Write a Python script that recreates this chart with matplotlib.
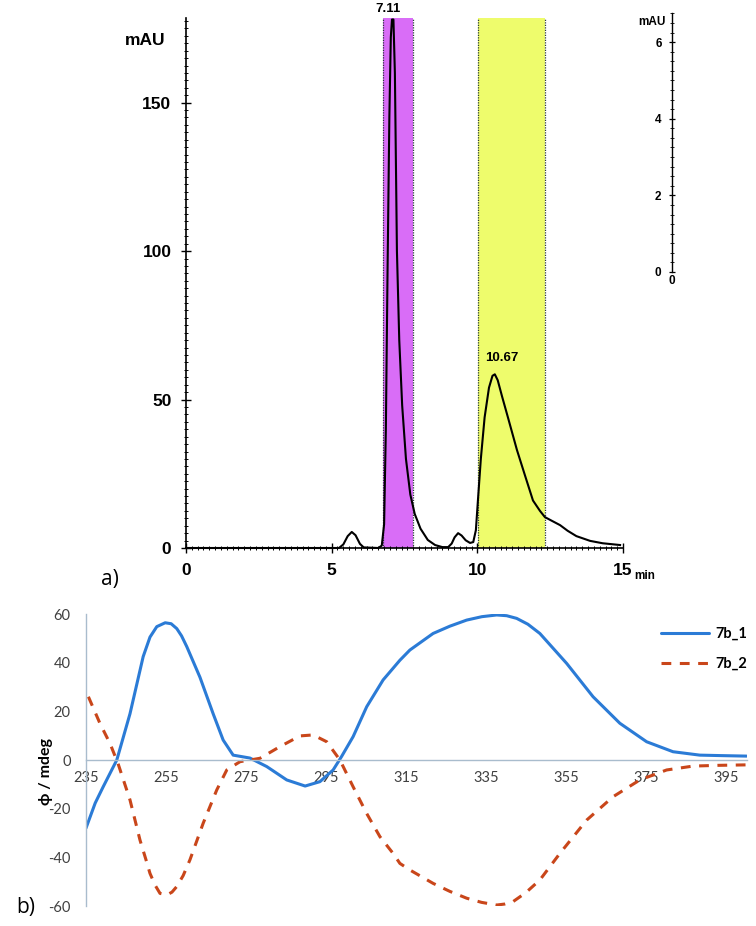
import matplotlib
matplotlib.use("Agg")
import matplotlib.pyplot as plt
from matplotlib.ticker import MultipleLocator

plt.rcParams["axes.unicode_minus"] = False

# ---- panel a: chromatogram (time / min, signal / mAU)
t_min = [0, 5.25, 5.4, 5.55, 5.69, 5.82, 5.97, 6.1, 6.6, 6.72, 6.8, 6.86, 6.92, 6.98,
         7.03, 7.07, 7.12, 7.17, 7.24, 7.32, 7.42, 7.55, 7.7, 7.85, 8.05, 8.3, 8.55,
         8.8, 9.0, 9.12, 9.22, 9.34, 9.46, 9.6, 9.75, 9.86, 9.95, 10.02, 10.12, 10.25,
         10.4, 10.52, 10.6, 10.7, 10.85, 11.05, 11.36, 11.65, 11.91, 12.15, 12.32, 12.55,
         12.84, 13.1, 13.4, 13.87, 14.3, 14.9]
mau = [0, 0, 1.2, 4.0, 5.4, 4.3, 1.4, 0.2, 0, 0.8, 8, 40, 95, 145,
       172, 178, 178, 160, 100, 70, 48, 30, 18, 11.5, 6.5, 2.7, 1.0,
       0.3, 0.3, 1.5, 3.6, 5.0, 4.2, 2.6, 1.7, 2.0, 6, 16, 30, 44,
       54, 58, 58.5, 56.5, 51, 44, 33, 24, 16, 12.5, 10.4, 9.2,
       7.7, 5.8, 4.0, 2.4, 1.6, 1.0]
band_magenta = (6.76, 7.79)
band_yellow = (10.02, 12.32)
peak_labels = ["7.11", "10.67"]
peak_label_xy = [(6.93, 181.5), (10.85, 64)]

# ---- panel b: CD spectra
nm_1 = [235, 237.3, 239.3, 242.7, 246, 249.3, 251, 252.7, 254.8, 256.3, 257.7, 258.9,
        260.2, 263.5, 266.8, 269.3, 271.8, 276, 280.2, 285.2, 289.8, 293.5, 296.8,
        298.9, 301.8, 305.2, 309.3, 313.5, 316, 321.8, 326, 330.2, 334, 337.7, 340.2,
        342.7, 345.5, 348.5, 355.2, 361.8, 368.5, 375.2, 381.8, 388.5, 394, 400.2]
cd_1 = [-28, -17.7, -11, 0, 19, 42.5, 50.5, 54.8, 56.4, 56, 54, 51,
        46.6, 34, 19, 8.2, 2, 0.8, -2.7, -8.2, -10.7, -8.9, -4.1,
        1.4, 9.6, 21.9, 32.9, 41, 45.2, 52, 55, 57.5, 58.9, 59.6, 59.3,
        58.2, 55.8, 52, 39.7, 26, 15.1, 7.5, 3.4, 2, 1.8, 1.6]
nm_2 = [235.6, 238.5, 241, 243, 246, 248.5, 250, 251, 252.3, 253.5, 255.2, 256.5,
        257.7, 259.3, 261, 264.3, 267.7, 270.2, 273.5, 278.5, 283.5, 288.5, 291.8,
        295.2, 298.5, 301.8, 305.2, 308.5, 311.8, 313.5, 316, 321.8, 326, 330.2, 333.9,
        337.7, 339.7, 341.8, 345, 348.5, 353.5, 360.2, 366.8, 373.5, 380.2, 386.8, 393,
        400.2]
cd_2 = [26, 15, 6.8, -1.4, -16.4, -32.9, -41, -46.6, -51.5, -54.8, -55.5, -54.3,
        -52, -47.5, -41, -26, -12.3, -4.1, -0.7, 0.7, 5.5, 9.9, 10.3,
        7.5, 0, -11, -22, -31.5, -38.4, -42.5, -45.2, -50.7, -54, -56.8, -58.5,
        -59.6, -59.2, -58.2, -54.5, -49.3, -38.4, -24.7, -15.1, -8.2, -4.1, -2.5, -2.2,
        -2]
series_names = ["7b_1", "7b_2"]
cd_xticks = [235, 255, 275, 295, 315, 335, 355, 375, 395]
cd_yticks = [-60, -40, -20, 0, 20, 40, 60]

W, H = 756, 926
fig = plt.figure(figsize=(W / 100, H / 100), dpi=100)

def fx(px):
    return px / W

def fy(py):
    return 1 - py / H

# ---------------- panel a ----------------
axa = fig.add_axes([fx(186), fy(548), fx(623 - 186), fy(18) - fy(548)])
for lo, hi, col in [(band_magenta[0], band_magenta[1], "#d96df7"),
                    (band_yellow[0], band_yellow[1], "#eefc6c")]:
    axa.axvspan(lo, hi, color=col, zorder=1, lw=0)
    for xv in (lo, hi):
        axa.axvline(xv, color="#2a3a3a", lw=0.9, ls=(0, (1, 1)), zorder=2)
axa.plot(t_min, mau, color="black", lw=1.5, zorder=3, clip_on=False)
axa.set_xlim(0, 15)
axa.set_ylim(0, 178.5)
for s in ["top", "right"]:
    axa.spines[s].set_visible(False)
axa.spines["left"].set_linewidth(1.2)
axa.spines["bottom"].set_linewidth(1.2)
axa.set_xticks([0, 5, 10, 15])
axa.set_yticks([0, 50, 100, 150])
axa.xaxis.set_minor_locator(MultipleLocator(0.2))
axa.yaxis.set_minor_locator(MultipleLocator(2.5))
axa.tick_params(axis="both", which="major", direction="inout", length=7, width=1.0,
                labelsize=12.5, pad=7)
axa.tick_params(axis="both", which="minor", direction="inout", length=3.5, width=0.7)
for lab in axa.get_xticklabels() + axa.get_yticklabels():
    lab.set_fontfamily("Liberation Sans")
    lab.set_fontweight("bold")
axa.text(-0.7, 171, "mAU", ha="right", va="center", fontsize=12.5, fontweight="bold",
         family="Liberation Sans")
axa.text(15.75, -9.5, "min", ha="center", va="center", fontsize=8.5, fontweight="bold",
         family="Liberation Sans")
for lab, (xx, yy) in zip(peak_labels, peak_label_xy):
    axa.text(xx, yy, lab, ha="center", va="center", fontsize=9.5, fontweight="bold",
             family="Liberation Sans", clip_on=False)

# small secondary axis on the right
axr = fig.add_axes([fx(672), fy(272), 0.0001, fy(13) - fy(272)])
axr.set_ylim(0, 6.76)
axr.set_xticks([])
for s in ["top", "right", "bottom"]:
    axr.spines[s].set_visible(False)
axr.spines["left"].set_linewidth(1.0)
axr.set_yticks([0, 2, 4, 6])
axr.yaxis.set_minor_locator(MultipleLocator(0.25))
axr.tick_params(axis="y", which="major", direction="inout", length=5, width=0.9,
                labelsize=8.5, pad=5)
axr.tick_params(axis="y", which="minor", direction="inout", length=2.5, width=0.6)
for lab in axr.get_yticklabels():
    lab.set_fontfamily("Liberation Sans")
    lab.set_fontweight("bold")
fig.text(fx(652), fy(22), "mAU", ha="center", va="center", fontsize=8.5,
         fontweight="bold", family="Liberation Sans")
fig.text(fx(672), fy(281), "0", ha="center", va="center", fontsize=8.5,
         fontweight="bold", family="Liberation Sans")

fig.text(fx(110), fy(579), "a)", ha="center", va="center", fontsize=15,
         family="Open Sans")

# ---------------- panel b ----------------
axb = fig.add_axes([fx(86), fy(906), fx(747 - 86), fy(614) - fy(906)])
axb.plot(nm_1, cd_1, color="#2b7bd6", lw=2.2, label=series_names[0],
         solid_capstyle="round", solid_joinstyle="round")
axb.plot(nm_2, cd_2, color="#c9461a", lw=2.2, ls=(0, (3.2, 2.8)), label=series_names[1])
axb.set_xlim(235, 400.3)
axb.set_ylim(-60, 60)
axb.spines["top"].set_visible(False)
axb.spines["right"].set_visible(False)
axb.spines["bottom"].set_position(("data", 0))
axis_col = "#a9bccd"
axb.spines["bottom"].set_color(axis_col)
axb.spines["left"].set_color(axis_col)
axb.spines["bottom"].set_linewidth(1.0)
axb.spines["left"].set_linewidth(1.0)
axb.set_xticks(cd_xticks)
axb.set_yticks(cd_yticks)
axb.tick_params(axis="both", length=0, labelsize=10.5, labelcolor="#404040")
axb.tick_params(axis="x", pad=8)
axb.tick_params(axis="y", pad=11)
for lab in axb.get_xticklabels() + axb.get_yticklabels():
    lab.set_fontfamily("Lato")
axb.set_ylabel("ϕ / mdeg", fontsize=11.5, fontweight="bold",
               family=["Lato", "DejaVu Sans"], labelpad=2)
axb.yaxis.set_label_coords(-0.05, 0.46)
leg = axb.legend(loc="upper right", bbox_to_anchor=(fx(760), fy(614)),
                 bbox_transform=fig.transFigure, frameon=False, handlelength=3.3,
                 handletextpad=0.4, labelspacing=1.1, prop={"family": "Lato",
                 "weight": "bold", "size": 10.5})
fig.text(fx(26), fy(907), "b)", ha="center", va="center", fontsize=15,
         family="Open Sans")

fig.savefig("out.png", dpi=100)
